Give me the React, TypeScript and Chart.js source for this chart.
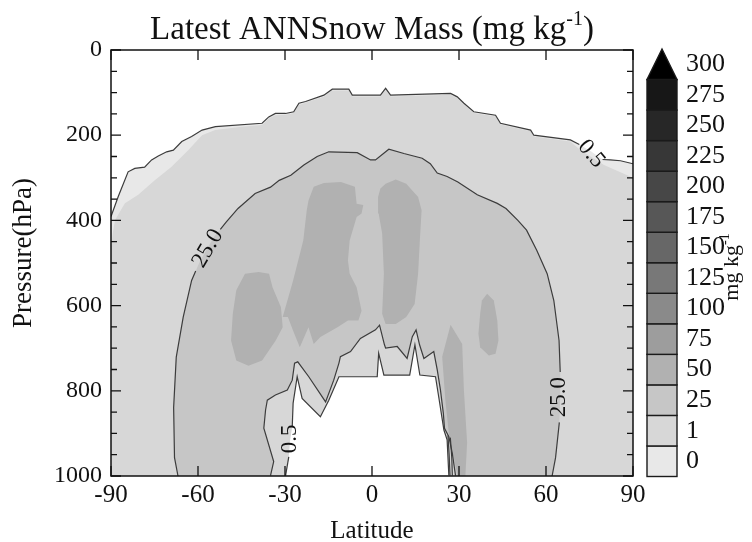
import React, { useEffect, useRef } from 'react';
import { Chart, registerables } from 'chart.js';

Chart.register(...registerables);

// ---------- data (latitude in degrees, pressure in hPa) ----------
const colorbarLabels = ['0', '1', '25', '50', '75', '100', '125', '150', '175', '200', '225', '250', '275', '300'];
const colorbarColors = ['#e8e8e8', '#d7d7d7', '#c6c6c6', '#b1b1b1', '#9d9d9d', '#8a8a8a', '#787878', '#676767', '#575757', '#474747', '#373737', '#272727', '#171717', '#000000'];

// 0.5 contour (upper edge of the snow region)
const c05TopA = [[-90, 391], [-87.5, 344], [-84.1, 286], [-81.8, 278], [-78.4, 275], [-76.0, 258], [-73.7, 249], [-70.8, 239], [-68.5, 235], [-65.6, 215], [-62.2, 203], [-58.6, 188], [-54.0, 180], [-37.9, 172], [-35.6, 157], [-33.3, 149], [-29.8, 149], [-27.0, 145], [-25.2, 125], [-22.9, 121], [-16.6, 106], [-13.7, 92], [-8.0, 92], [-6.8, 106], [2.9, 106], [4.7, 90], [6.4, 106], [27.1, 102], [29.4, 110], [31.7, 125], [35.1, 145], [42.6, 153], [44.3, 172], [54.7, 188], [55.8, 200], [68.4, 211], [71.5, 222]];
const c05TopLabelZone = [[75.6, 238]];
const c05TopB = [[79.5, 257], [82.2, 258], [85.7, 260], [90, 267]];

// 1 contour (inner edge of the lightest band)
const c1Top = [[-90, 465], [-89.4, 430], [-88.6, 399], [-85.2, 360], [-80.6, 340], [-74.8, 305], [-69.1, 274], [-63.3, 235], [-58.6, 200], [-54.1, 188], [-45, 180], [-37.9, 176], [-35.6, 161], [-33.3, 153], [-29.8, 152], [-27.0, 148], [-25.2, 129], [-22.9, 124], [-16.6, 109], [-13.7, 95], [-8.0, 95], [-6.8, 109], [2.9, 109], [4.7, 94], [6.4, 109], [27.1, 105], [29.4, 113], [31.7, 128], [35.1, 148], [42.6, 156], [44.3, 175], [54.7, 191], [55.8, 203], [68.4, 215], [72, 236], [80, 270], [90, 300]];

// 25 contour (outer arch)
const c25A = [[-66.9, 1000], [-68.1, 957], [-68.4, 839], [-67.5, 721], [-65.1, 627], [-62.2, 541], [-60.8, 519]];
const c25LabelZoneLeft = [[-59.2, 494], [-54.5, 439]];
const c25B = [[-52.3, 421], [-50.3, 404], [-46.2, 372], [-40.3, 337], [-35, 322], [-32, 306], [-28, 294], [-23.5, 270], [-18.9, 250], [-14.9, 239], [-5.1, 241], [-0.5, 258], [1.2, 258], [5.8, 233], [11, 243], [17.3, 254], [20.1, 267], [22.5, 289], [25.9, 297], [29.6, 310], [36.3, 340], [43.2, 360], [46.2, 372], [50.3, 400], [53.3, 423], [56.8, 470], [60.4, 525], [62.7, 588], [64.5, 682], [64.9, 756]];
const c25LabelZoneRight = [[64.9, 815]];
const c25C = [[64.6, 874], [63.3, 957], [62.1, 1000]];

// 50 contour blobs
const blob1 = [[-46.8, 564], [-43.8, 525], [-39.1, 521], [-35.5, 525], [-34.3, 557], [-31.4, 604], [-30.8, 651], [-33.2, 682], [-37.9, 729], [-42.6, 741], [-46.8, 729], [-48.6, 682], [-48.0, 619]];
const blob2 = [[-20.1, 321], [-16.6, 312], [-10.7, 310], [-5.9, 321], [-5.3, 361], [-3.0, 364], [-3.6, 384], [-5.3, 392], [-7.7, 447], [-8.3, 494], [-7.7, 525], [-5.3, 557], [-3.6, 612], [-4.7, 635], [-8.3, 635], [-11.9, 651], [-17.8, 674], [-20.1, 690], [-21.9, 651], [-24.9, 698], [-27.2, 659], [-29.0, 627], [-30.8, 627], [-27.2, 541], [-23.7, 447], [-22.5, 376], [-21.9, 353]];
const blob3 = [[4.7, 314], [8.2, 304], [11.8, 314], [15.9, 345], [17.1, 376], [16.5, 447], [15.9, 525], [14.7, 596], [11.8, 627], [8.2, 643], [4.7, 643], [3.5, 619], [4.1, 525], [3.5, 431], [2.3, 384], [2.1, 345], [2.9, 325]];
const blob4 = [[37.9, 588], [39.7, 572], [42.0, 588], [43.2, 635], [43.6, 682], [42.6, 713], [40.3, 717], [37.3, 698], [36.7, 666], [37.3, 619]];
const blob5 = [[27.1, 645], [31.1, 690], [31.7, 800], [32.8, 922], [32.2, 1000], [29.5, 1000], [26.5, 900], [25.3, 822], [24.2, 720]];

// 25 contour around the surface hole
const bandTop = [[-35.0, 999], [-33.9, 966], [-37.3, 888], [-36.7, 845], [-36.1, 822], [-33.3, 810], [-29.2, 798], [-27.5, 775], [-26.7, 735], [-25.6, 732], [-21.8, 767], [-16.0, 826], [-13.2, 775], [-11.4, 735], [-10.9, 720], [-7.4, 708], [-4.0, 677], [1.2, 657], [2.6, 646], [4.3, 692], [4.7, 700], [8.7, 696], [12.1, 724], [13.9, 673], [15.2, 657], [16.4, 692], [17.9, 724], [21.3, 708], [22.5, 751], [23.6, 798], [24.6, 853], [25.0, 888], [26.5, 908], [27.7, 947], [28.8, 999]];

// 0.5 contour around the surface hole (no data below)
const holeA = [[-29.8, 999], [-28.7, 955]];
const holeLabelZone = [[-28.2, 913]];
const holeB = [[-27.5, 884], [-27.2, 829], [-25.8, 767], [-24.1, 818], [-17.8, 861], [-14.9, 822], [-11.4, 767], [1.8, 767], [2.3, 712], [4.1, 763], [13.0, 763], [14.8, 692], [16.5, 763], [21.9, 767], [23.0, 814], [24.8, 892], [25.9, 915], [26.5, 999]];

// tightly packed contours near 27N at the surface
const dense1 = [[26.2, 905], [26.6, 950], [26.9, 999]];
const dense2 = [[27.0, 910], [27.5, 955], [27.7, 999]];

const contourLabels = [
  { text: '25.0', lat: -56.6, p: 466, angle: -60 },
  { text: '25.0', lat: 64.3, p: 815, angle: -90 },
  { text: '0.5', lat: 75.6, p: 244, angle: 50 },
  { text: '0.5', lat: -28.4, p: 913, angle: -90 },
];

// ---------- helpers ----------
const pts = (...parts: number[][][]) => parts.flat().map(([x, y]) => ({ x, y }));
const WHITE = '#ffffff';
const LINE = '#3c3c3c';
const SERIF = '"Liberation Serif", "Times New Roman", serif';

function fillSet(data: { x: number; y: number }[], color: string) {
  return { data, backgroundColor: color, borderWidth: 0, borderColor: 'rgba(0,0,0,0)', fill: 'shape', pointRadius: 0 };
}
function lineSet(data: { x: number; y: number }[]) {
  return { data, borderColor: LINE, borderWidth: 1.2, fill: false, pointRadius: 0 };
}

const decorPlugin = {
  id: 'decor',
  afterDatasetsDraw(chart: any) {
    const { ctx, chartArea: a, scales } = chart;
    const x = scales.x;
    const y = scales.y;
    ctx.save();
    // contour labels
    ctx.fillStyle = '#111';
    ctx.font = `23px ${SERIF}`;
    ctx.textAlign = 'center';
    ctx.textBaseline = 'middle';
    for (const l of contourLabels) {
      ctx.save();
      ctx.translate(x.getPixelForValue(l.lat), y.getPixelForValue(l.p));
      ctx.rotate((l.angle * Math.PI) / 180);
      ctx.fillText(l.text, 0, 0);
      ctx.restore();
    }
    // frame
    ctx.strokeStyle = '#111';
    ctx.lineWidth = 1.5;
    ctx.strokeRect(a.left, a.top, a.right - a.left, a.bottom - a.top);
    // inward ticks
    ctx.lineWidth = 1.3;
    ctx.beginPath();
    for (const t of x.ticks) {
      const px = x.getPixelForValue(t.value);
      ctx.moveTo(px, a.bottom);
      ctx.lineTo(px, a.bottom - 10);
      ctx.moveTo(px, a.top);
      ctx.lineTo(px, a.top + 10);
    }
    for (const t of y.ticks) {
      const py = y.getPixelForValue(t.value);
      const len = t.value % 200 === 0 ? 10 : 6;
      ctx.moveTo(a.left, py);
      ctx.lineTo(a.left + len, py);
      ctx.moveTo(a.right, py);
      ctx.lineTo(a.right - len, py);
    }
    ctx.stroke();
    ctx.restore();
  },
  afterDraw(chart: any) {
    const { ctx, chartArea: a } = chart;
    ctx.save();
    ctx.fillStyle = '#111';
    // title with superscript
    const cx = (a.left + a.right) / 2;
    const main = 'Latest ANNSnow Mass (mg kg';
    const sup = '-1';
    const close = ')';
    ctx.textBaseline = 'alphabetic';
    ctx.textAlign = 'left';
    ctx.font = `33px ${SERIF}`;
    const w1 = ctx.measureText(main).width;
    const w3 = ctx.measureText(close).width;
    ctx.font = `20px ${SERIF}`;
    const w2 = ctx.measureText(sup).width;
    let tx = cx - (w1 + w2 + w3) / 2;
    const base = 39;
    ctx.font = `33px ${SERIF}`;
    ctx.fillText(main, tx, base);
    tx += w1;
    ctx.font = `20px ${SERIF}`;
    ctx.fillText(sup, tx, base - 14);
    tx += w2;
    ctx.font = `33px ${SERIF}`;
    ctx.fillText(close, tx, base);

    // y axis title
    ctx.save();
    ctx.translate(24, 253);
    ctx.rotate(-Math.PI / 2);
    ctx.textAlign = 'center';
    ctx.textBaseline = 'middle';
    ctx.font = `27px ${SERIF}`;
    ctx.fillText('Pressure(hPa)', 0, 0);
    ctx.restore();

    // colour bar
    const n = colorbarLabels.length;
    const top = a.top - 1;
    const bottom = a.bottom + 0.5;
    const seg = (bottom - top) / n;
    const left = a.right + 14;
    const w = 30;
    ctx.strokeStyle = '#1a1a1a';
    ctx.lineWidth = 1.4;
    for (let i = 0; i < n; i++) {
      const y1 = bottom - i * seg;
      const y0 = y1 - seg;
      ctx.fillStyle = colorbarColors[i];
      if (i === n - 1) {
        ctx.beginPath();
        ctx.moveTo(left, y1);
        ctx.lineTo(left + w / 2, y0);
        ctx.lineTo(left + w, y1);
        ctx.closePath();
        ctx.fill();
        ctx.stroke();
      } else {
        ctx.fillRect(left, y0, w, seg);
        ctx.strokeRect(left, y0, w, seg);
      }
    }
    ctx.fillStyle = '#111';
    ctx.font = `26px ${SERIF}`;
    ctx.textBaseline = 'middle';
    ctx.textAlign = 'left';
    for (let i = 0; i < n; i++) {
      const yc = bottom - (i + 0.5) * seg;
      ctx.fillText(colorbarLabels[i], left + w + 9, yc);
    }
    // unit label, rotated
    ctx.save();
    ctx.translate(738, (a.top + a.bottom) / 2 + 4);
    ctx.rotate(-Math.PI / 2);
    ctx.textBaseline = 'alphabetic';
    ctx.font = `22px ${SERIF}`;
    const u1 = 'mg kg';
    const uw1 = ctx.measureText(u1).width;
    ctx.font = `14px ${SERIF}`;
    const uw2 = ctx.measureText(sup).width;
    let ux = -(uw1 + uw2) / 2;
    ctx.font = `22px ${SERIF}`;
    ctx.fillText(u1, ux, 0);
    ux += uw1;
    ctx.font = `14px ${SERIF}`;
    ctx.fillText(sup, ux, -9);
    ctx.restore();
    ctx.restore();
  },
};

export default function App() {
  const ref = useRef<HTMLCanvasElement | null>(null);
  useEffect(() => {
    document.body.style.margin = '0';
    Chart.defaults.font.family = SERIF;
    Chart.defaults.color = '#111';
    const layers = [
      fillSet(pts(c05TopA, c05TopLabelZone, c05TopB, [[90, 1000], [-90, 1000]]), colorbarColors[0]),
      fillSet(pts(c1Top, [[90, 1000], [-90, 1000]]), colorbarColors[1]),
      fillSet(pts(c25A, c25LabelZoneLeft, c25B, c25LabelZoneRight, c25C), colorbarColors[2]),
      fillSet(pts(blob1), colorbarColors[3]),
      fillSet(pts(blob2), colorbarColors[3]),
      fillSet(pts(blob3), colorbarColors[3]),
      fillSet(pts(blob4), colorbarColors[3]),
      fillSet(pts(blob5), colorbarColors[3]),
      fillSet(pts(bandTop), colorbarColors[1]),
      fillSet(pts(holeA, holeLabelZone, holeB), WHITE),
      lineSet(pts(c05TopA)),
      lineSet(pts(c05TopB)),
      lineSet(pts(c25A)),
      lineSet(pts(c25B)),
      lineSet(pts(c25C)),
      lineSet(pts(bandTop)),
      lineSet(pts(holeA)),
      lineSet(pts(holeB)),
      lineSet(pts(dense1)),
      lineSet(pts(dense2)),
    ];
    const datasets = layers.map((d, i) => ({ ...d, order: layers.length - i }));
    const chart = new Chart(ref.current as HTMLCanvasElement, {
      type: 'line',
      data: { datasets } as any,
      options: {
        animation: false,
        responsive: false,
        maintainAspectRatio: false,
        devicePixelRatio: 1,
        layout: { padding: { top: 50, left: 0, right: 119, bottom: 0 } },
        elements: { line: { tension: 0 }, point: { radius: 0 } },
        plugins: { legend: { display: false }, tooltip: { enabled: false }, title: { display: false } },
        scales: {
          x: {
            type: 'linear',
            min: -90,
            max: 90,
            grid: { display: false, drawTicks: false },
            border: { display: false },
            ticks: { stepSize: 30, autoSkip: false, maxRotation: 0, padding: 4, font: { size: 25 }, callback: (v: any) => String(v) },
            title: { display: true, text: 'Latitude', font: { size: 25, lineHeight: 1 }, padding: { top: 0, bottom: -2 } },
            afterFit: (s: any) => { s.height = 66; },
          },
          y: {
            type: 'linear',
            reverse: true,
            min: 0,
            max: 1000,
            grid: { display: false, drawTicks: false },
            border: { display: false },
            ticks: { stepSize: 50, autoSkip: false, padding: 9, font: { size: 24 }, callback: (v: any) => (Number(v) % 200 === 0 ? String(v) : '') },
            title: { display: false },
            afterFit: (s: any) => { s.width = 111; },
          },
        },
      } as any,
      plugins: [decorPlugin],
    });
    return () => chart.destroy();
  }, []);
  return <canvas ref={ref} width={752} height={542} style={{ display: 'block' }} />;
}
